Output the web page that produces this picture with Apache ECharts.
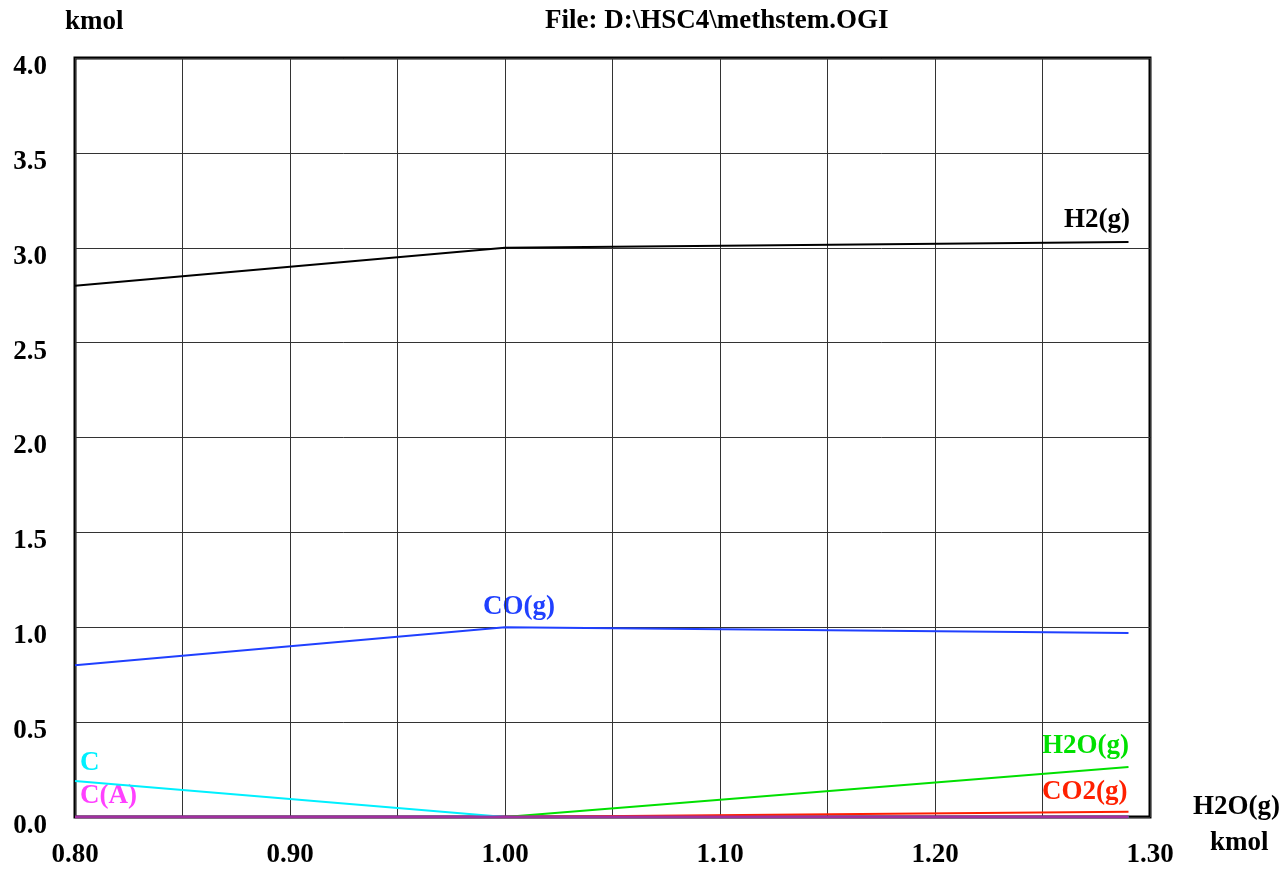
<!DOCTYPE html>
<html>
<head>
<meta charset="utf-8">
<script src="https://cdn.jsdelivr.net/npm/echarts@6/dist/echarts.min.js"></script>
<style>
  html, body { margin: 0; padding: 0; background: #fff; }
  #chart { width: 1285px; height: 872px; }
</style>
</head>
<body>
<div id="chart"></div>
<script>
// H2O(g) input, kmol
var h2oIn = [0.80, 1.00, 1.29];
// equilibrium amounts, kmol
var h2 = [2.80, 3.00, 3.03];
var co = [0.80, 1.00, 0.97];
var carbon = [0.19, 0.00, 0.00];
var carbonA = [0.00, 0.00, 0.00];
var h2oOut = [0.00, 0.00, 0.263];
var co2 = [0.00, 0.00, 0.028];

var serif = '"Liberation Serif", "DejaVu Serif", serif';
var fs = 27;

function pairs(ys) {
    var out = [];
    for (var i = 0; i < h2oIn.length; i++) out.push([h2oIn[i], ys[i]]);
    return out;
}

function line(name, ys, color, width) {
    return {
        name: name,
        type: 'line',
        data: pairs(ys),
        symbol: 'none',
        lineStyle: { color: color, width: width || 2 },
        animation: false
    };
}

// y is the vertical centre of the text
function txt(x, y, s, color) {
    return {
        type: 'text', x: x, y: y,
        style: {
            text: s, fill: color || '#000', font: 'bold ' + fs + 'px ' + serif,
            verticalAlign: 'middle'
        }
    };
}

var chart = echarts.init(document.getElementById('chart'));
chart.setOption({
    backgroundColor: '#fff',
    animation: false,
    grid: {
        left: 75, top: 58, right: 135, bottom: 55,
        show: true, borderColor: '#000', borderWidth: 3
    },
    xAxis: {
        type: 'value', min: 0.80, max: 1.30, interval: 0.05,
        axisLine: { show: false },
        axisTick: { show: false },
        splitLine: { lineStyle: { color: '#333', width: 1 } },
        axisLabel: {
            margin: 25, color: '#000', fontFamily: serif, fontWeight: 'bold', fontSize: fs,
            formatter: function (v) {
                return Math.round(v * 100) % 10 === 0 ? v.toFixed(2) : '';
            }
        }
    },
    yAxis: {
        type: 'value', min: 0, max: 4, interval: 0.5,
        axisLine: { show: false },
        axisTick: { show: false },
        splitLine: { lineStyle: { color: '#333', width: 1 } },
        axisLabel: {
            margin: 28, color: '#000', fontFamily: serif, fontWeight: 'bold', fontSize: fs,
            verticalAlign: 'top', lineHeight: 18,
            formatter: function (v) { return v.toFixed(1); }
        }
    },
    series: [
        line('H2(g)', h2, '#000000'),
        line('CO(g)', co, '#2040ff'),
        line('C', carbon, '#00f0ff'),
        line('H2O(g)', h2oOut, '#00e000'),
        line('CO2(g)', co2, '#ff2000'),
        line('C(A)', carbonA, '#a030a0', 3)
    ],
    graphic: [
        txt(65, 22, 'kmol'),
        txt(545, 21, 'File: D:\\HSC4\\methstem.OGI'),
        txt(1193, 807, 'H2O(g)'),
        txt(1210, 843, 'kmol'),
        txt(1064, 220, 'H2(g)'),
        txt(483, 607, 'CO(g)', '#2040ff'),
        txt(1042, 746, 'H2O(g)', '#00e000'),
        txt(1042, 792, 'CO2(g)', '#ff2000'),
        txt(80, 763, 'C', '#00f0ff'),
        txt(80, 796, 'C(A)', '#ff40ff')
    ]
});
</script>
</body>
</html>
